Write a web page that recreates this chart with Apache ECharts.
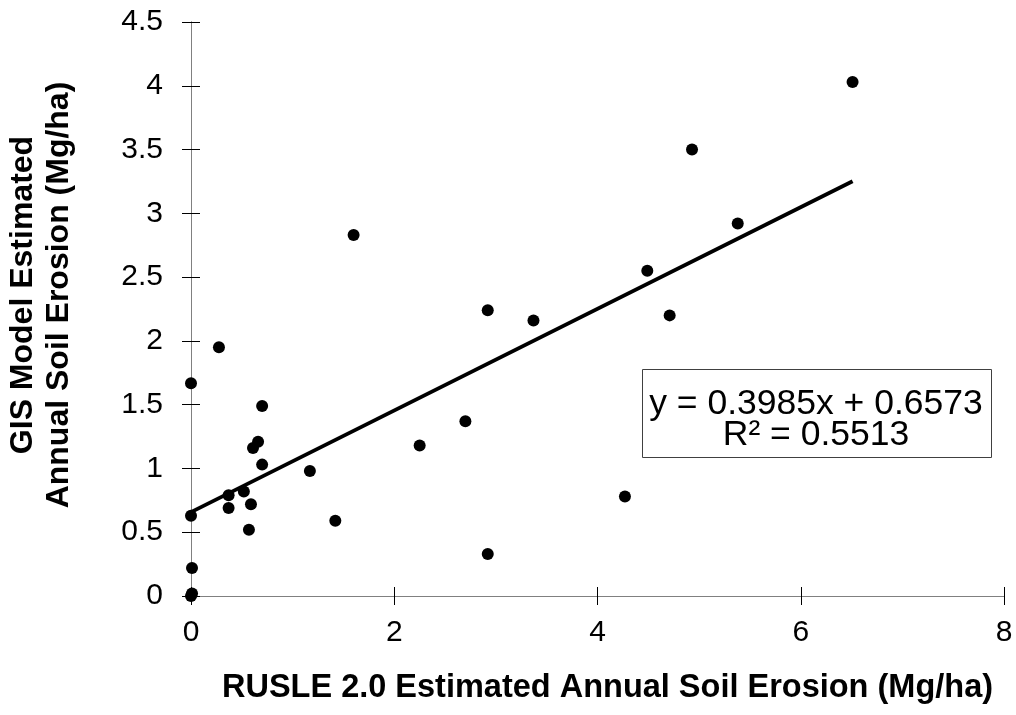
<!DOCTYPE html>
<html>
<head>
<meta charset="utf-8">
<script src="https://cdn.jsdelivr.net/npm/echarts@6/dist/echarts.min.js"></script>
<style>
  html, body { margin: 0; padding: 0; background: #fff; }
  #chart { width: 1016px; height: 715px; }
</style>
</head>
<body>
<div id="chart"></div>
<script>
// RUSLE 2.0 estimate (x) vs GIS model estimate (y), Mg/ha
const rusleX = [0, 0.275, 0.70, 0.66, 0.61, 0.70, 1.17, 0.37, 0.52, 0.37, 0.59, 0.57, 1.42, 0, 0.01, 0.01, 0,
  2.25, 2.70, 1.60, 2.92, 3.37, 4.71, 4.27, 2.92, 6.51, 4.93, 5.38, 4.49]
const gisY = [1.667, 1.95, 1.49, 1.21, 1.16, 1.03, 0.98, 0.79, 0.82, 0.69, 0.72, 0.52, 0.59, 0.63, 0.22, 0.02, 0,
  1.18, 1.37, 2.83, 2.24, 2.16, 2.20, 0.78, 0.33, 4.03, 3.50, 2.92, 2.55]

// linear trend from the chart
const slope = 0.3985
const intercept = 0.6573
const rSquared = 0.5513

const xTicks = [0, 2, 4, 6, 8]
const yTicks = [0, 0.5, 1, 1.5, 2, 2.5, 3, 3.5, 4, 4.5]

const xTitle = 'RUSLE 2.0 Estimated Annual Soil Erosion (Mg/ha)'
const yTitle = 'GIS Model Estimated\nAnnual Soil Erosion (Mg/ha)'

const points = rusleX.map((x, i) => [x, gisY[i]])
const xMax = Math.max(...rusleX)
const trend = [[0, intercept], [xMax, slope * xMax + intercept]]

const font = '"Liberation Sans", Arial, sans-serif'
const axisColor = '#808080'

const baseX = {
  type: 'value',
  min: xTicks[0],
  max: xTicks[xTicks.length - 1],
  interval: xTicks[1] - xTicks[0],
  position: 'bottom',
  splitLine: { show: false },
  axisLine: { show: true, onZero: false, lineStyle: { color: axisColor, width: 1 } }
}
const baseY = {
  type: 'value',
  min: yTicks[0],
  max: yTicks[yTicks.length - 1],
  interval: yTicks[1] - yTicks[0],
  position: 'left',
  splitLine: { show: false },
  axisLine: { show: true, onZero: false, lineStyle: { color: axisColor, width: 1 } }
}

const chart = echarts.init(document.getElementById('chart'))
chart.setOption({
  animation: false,
  backgroundColor: '#fff',
  textStyle: { fontFamily: font },
  grid: { left: 191, right: 12, top: 22, bottom: 119, containLabel: false, outerBoundsMode: 'none' },
  xAxis: [
    Object.assign({}, baseX, {
      axisTick: { show: true, inside: false, length: 9, lineStyle: { color: '#000' } },
      axisLabel: { color: '#000', fontSize: 30, margin: 22, fontFamily: font },
      name: xTitle,
      nameLocation: 'middle',
      nameGap: 76,
      nameTextStyle: {
        color: '#000', fontSize: 32.5, fontWeight: 'bold', fontFamily: font,
        padding: [0, 0, 0, 20]
      }
    }),
    Object.assign({}, baseX, {
      axisTick: { show: true, inside: true, length: 9, lineStyle: { color: '#000' } },
      axisLabel: { show: false }
    })
  ],
  yAxis: [
    Object.assign({}, baseY, {
      axisTick: { show: true, inside: false, length: 9, lineStyle: { color: '#000' } },
      axisLabel: { color: '#000', fontSize: 30, margin: 28, fontFamily: font },
      name: yTitle,
      nameLocation: 'middle',
      nameGap: 114,
      nameRotate: 90,
      nameTextStyle: {
        color: '#000', fontSize: 32, fontWeight: 'bold', lineHeight: 36, fontFamily: font,
        padding: [0, 0, 0, 28]
      }
    }),
    Object.assign({}, baseY, {
      axisTick: { show: true, inside: true, length: 9, lineStyle: { color: '#000' } },
      axisLabel: { show: false }
    })
  ],
  series: [
    {
      type: 'line',
      data: trend,
      xAxisIndex: 0,
      yAxisIndex: 0,
      symbol: 'none',
      lineStyle: { color: '#000', width: 3.8 },
      z: 2
    },
    {
      type: 'scatter',
      data: points,
      xAxisIndex: 0,
      yAxisIndex: 0,
      symbol: 'circle',
      symbolSize: 12,
      itemStyle: { color: '#000', opacity: 1 },
      z: 3
    }
  ],
  graphic: [
    {
      type: 'rect',
      left: 642,
      top: 369,
      shape: { width: 349, height: 88 },
      style: { fill: '#fff', stroke: '#404040', lineWidth: 1 },
      z: 10
    },
    {
      type: 'text',
      x: 816,
      y: 420,
      style: {
        text: 'y = ' + slope + 'x + ' + intercept + '\nR² = ' + rSquared,
        fontSize: 35.5,
        fontFamily: font,
        fill: '#000',
        align: 'center',
        verticalAlign: 'middle',
        lineHeight: 31
      },
      z: 11
    }
  ]
})
</script>
</body>
</html>
